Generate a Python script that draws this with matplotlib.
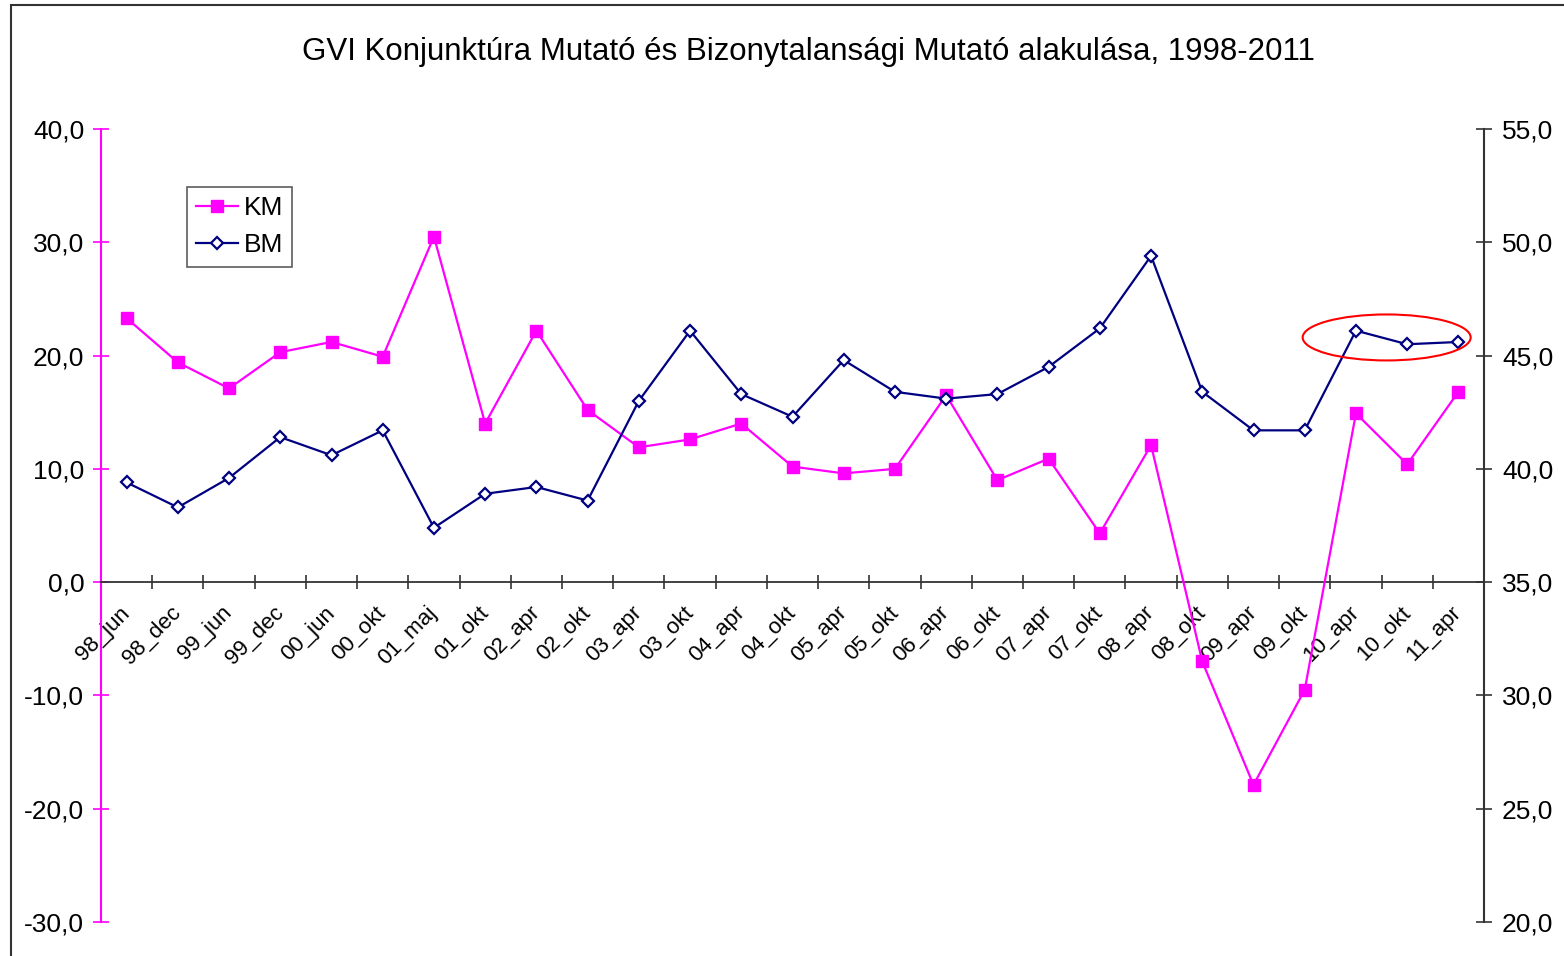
import matplotlib
matplotlib.use("Agg")
import matplotlib.pyplot as plt
from matplotlib.patches import Ellipse, Rectangle
from matplotlib.ticker import FuncFormatter, FixedLocator
import numpy as np

plt.rcParams['font.family'] = ['Liberation Sans', 'DejaVu Sans']

# Data
periods = ["98_jun", "98_dec", "99_jun", "99_dec", "00_jun", "00_okt", "01_maj",
           "01_okt", "02_apr", "02_okt", "03_apr", "03_okt", "04_apr", "04_okt",
           "05_apr", "05_okt", "06_apr", "06_okt", "07_apr", "07_okt", "08_apr",
           "08_okt", "09_apr", "09_okt", "10_apr", "10_okt", "11_apr"]
km = [23.3, 19.4, 17.1, 20.3, 21.2, 19.9, 30.5, 14.0, 22.2, 15.2, 11.9, 12.6,
      14.0, 10.2, 9.6, 10.0, 16.5, 9.0, 10.9, 4.3, 12.1, -7.0, -17.9, -9.5,
      14.9, 10.4, 16.8]
bm = [39.4, 38.3, 39.6, 41.4, 40.6, 41.7, 37.4, 38.9, 39.2, 38.6, 43.0, 46.1,
      43.3, 42.3, 44.8, 43.4, 43.1, 43.3, 44.5, 46.2, 49.4, 43.4, 41.7, 41.7,
      46.1, 45.5, 45.6]
left_ticks = [-30, -20, -10, 0, 10, 20, 30, 40]
right_ticks = [20, 25, 30, 35, 40, 45, 50, 55]

W, H = 1564, 956
fig = plt.figure(figsize=(W / 100, H / 100), dpi=100)
fig.patch.set_facecolor('white')

# outer chart border (cropped at right/bottom like the reference)
fig.patches.append(Rectangle((11 / W, -0.05), 1.2, 1.05 - 5 / H,
                             transform=fig.transFigure, fill=False,
                             edgecolor='#333333', linewidth=1.5))

ax = fig.add_axes([101 / W, 1 - 922 / H, 1383 / W, 793 / H])
ax2 = ax.twinx()

x = np.arange(len(periods))
comma = FuncFormatter(lambda v, p: f"{v:.1f}".replace('.', ','))

# KM on the left axis
l1, = ax.plot(x, km, color='#FF00FF', linewidth=1.6, marker='s', markersize=9,
              markerfacecolor='#FF00FF', markeredgecolor='#FF00FF', zorder=3)
ax.set_ylim(-30, 40)
ax.set_xlim(-0.5, len(periods) - 0.5)
ax.yaxis.set_major_locator(FixedLocator(left_ticks))
ax.yaxis.set_major_formatter(comma)
ax.tick_params(axis='y', direction='inout', length=12, width=1.2,
               color='#FF00FF', labelsize=19, pad=6)

# BM on the right axis
l2, = ax2.plot(x, bm, color='#000080', linewidth=1.6, marker='D', markersize=6,
               markerfacecolor='white', markeredgecolor='#000080',
               markeredgewidth=1.6, zorder=4)
ax2.set_ylim(20, 55)
ax2.yaxis.set_major_locator(FixedLocator(right_ticks))
ax2.yaxis.set_major_formatter(comma)
ax2.tick_params(axis='y', direction='inout', length=12, width=1.2,
                color='#333333', labelsize=19, pad=7)

# highlight of the last three BM values
ax2.add_patch(Ellipse((24.6, 45.8), 3.28, 2.03, fill=False,
                      edgecolor='#FF0000', linewidth=1.5, zorder=5))

# spines
for a in (ax, ax2):
    a.spines['top'].set_visible(False)
    a.patch.set_visible(False)
ax2.spines['left'].set_visible(False)
ax2.spines['bottom'].set_visible(False)
ax.spines['right'].set_visible(False)
ax.spines['left'].set_color('#FF00FF')
ax.spines['left'].set_linewidth(1.5)
ax2.spines['right'].set_color('#333333')
ax2.spines['right'].set_linewidth(1.5)
ax.spines['bottom'].set_position(('data', 0))
ax.spines['bottom'].set_color('#333333')
ax.spines['bottom'].set_linewidth(1.3)

# category axis: labels at centers, ticks at boundaries
ax.set_xticks(x)
ax.set_xticklabels(periods, rotation=45, ha='right', va='center',
                   rotation_mode='anchor')
ax.set_xticks(np.arange(-0.5, len(periods)), minor=True)
ax.tick_params(axis='x', which='major', length=0, labelsize=16, pad=20)
ax.tick_params(axis='x', which='minor', direction='inout', length=10, width=1.2,
               color='#333333')

fig.text(0.517, 1 - 52 / H,
         "GVI Konjunktúra Mutató és Bizonytalansági Mutató alakulása, 1998-2011",
         ha='center', va='center', fontsize=22.5)

leg = fig.legend([l1, l2], ["KM", "BM"], loc='upper left',
                 bbox_to_anchor=(187 / W, 1 - 187 / H), fontsize=19,
                 frameon=True, fancybox=False, shadow=False,
                 handlelength=1.6, handletextpad=0.2, borderpad=0.35,
                 labelspacing=0.5, borderaxespad=0)
leg.get_frame().set_edgecolor('#333333')
leg.get_frame().set_linewidth(1.2)

fig.savefig("out.png", dpi=100)
